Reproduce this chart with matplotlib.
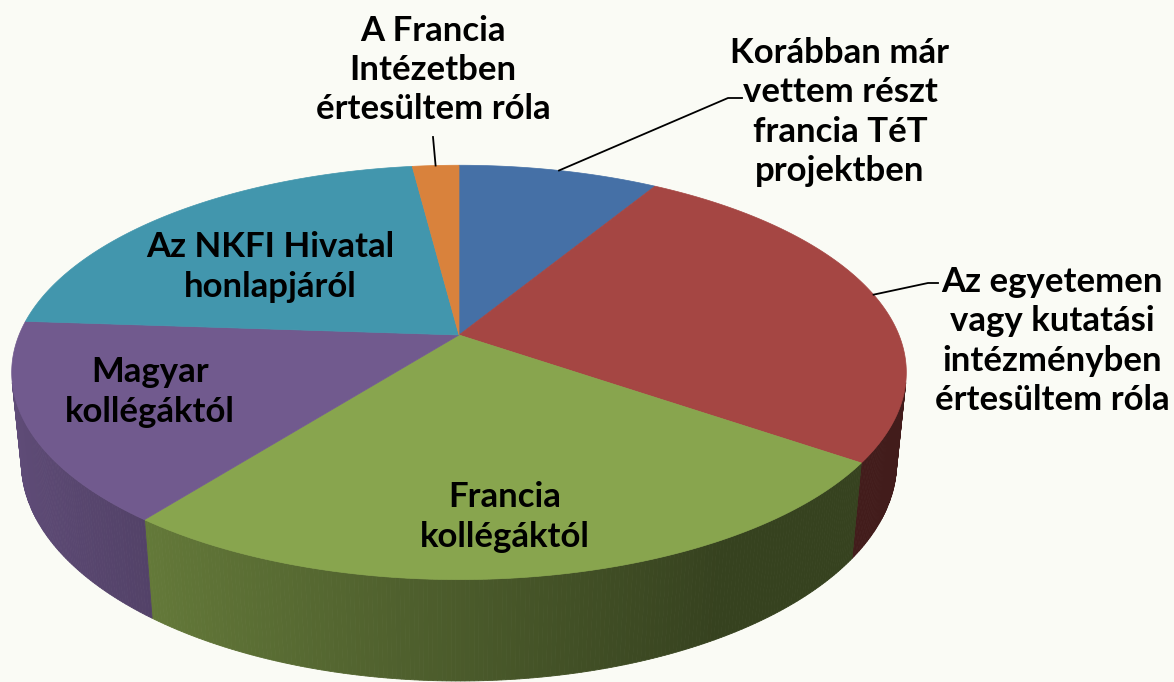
import numpy as np
import matplotlib
matplotlib.use("Agg")
import matplotlib.pyplot as plt
from matplotlib.patches import Polygon

# slices, clockwise from 12 o'clock
labels = [
    "Korábban már\nvettem részt\nfrancia TéT\nprojektben",
    "Az egyetemen\nvagy kutatási\nintézményben\nértesültem róla",
    "Francia\nkollégáktól",
    "Magyar\nkollégáktól",
    "Az NKFI Hivatal\nhonlapjáról",
    "A Francia\nIntézetben\nértesültem róla",
]
values = [8.6, 26.1, 25.8, 15.6, 21.9, 2.0]
colors = ["#4570a6", "#a54643", "#88a54e", "#715a8e", "#4296ad", "#d9823c"]

# label positions (pixels) and whether a leader line is drawn
label_pos = [(840, 112), (1052, 341), (505, 517), (150, 392), (270, 267), (433, 70)]
leader_end = [(742, 98), (938, 283), None, None, None, (433, 137)]
leader_knee = [(728, 98), (928, 283), None, None, None, None]

# perspective "camera" for the 3d pie
cx, cy = 459, 335
elev = np.radians(27.1)
dist = 4.93
focal = 2169
height = 0.231
bg = "#fafbf5"


def proj(theta_deg, z=0.0):
    t = np.radians(theta_deg)
    X, Y = np.sin(t), np.cos(t)
    depth = Y * np.cos(elev) - z * np.sin(elev) + dist
    px = cx + focal * X / depth
    py = cy - focal * (Y * np.sin(elev) + z * np.cos(elev)) / depth
    return px, py


def shade(color, theta_deg):
    f = 0.55 - 0.3 * np.sin(np.radians(theta_deg))
    f = min(max(f, 0.40), 0.9)
    rgb = np.array(matplotlib.colors.to_rgb(color))
    return tuple(rgb * f)


fig = plt.figure(figsize=(11.74, 6.82), dpi=100)
fig.patch.set_facecolor(bg)
ax = fig.add_axes([0, 0, 1, 1])
ax.set_xlim(0, 1174)
ax.set_ylim(682, 0)
ax.axis("off")

edges = np.concatenate([[0], np.cumsum(values)]) / sum(values) * 360
lim = np.degrees(np.arccos(-1 / (dist * np.cos(elev))))
vis_lo, vis_hi = lim, 360 - lim

# outer side walls (front part only)
for i in range(len(values)):
    a1, a2 = max(edges[i], vis_lo), min(edges[i + 1], vis_hi)
    if a2 <= a1:
        continue
    ts = np.linspace(a1, a2, int((a2 - a1) / 0.5) + 2)
    for t0, t1 in zip(ts[:-1], ts[1:]):
        pts = [proj(t0), proj(t1), proj(t1, -height), proj(t0, -height)]
        c = shade(colors[i], (t0 + t1) / 2)
        ax.add_patch(Polygon(pts, closed=True, fc=c, ec=c, lw=0.6))

# top face
for i in range(len(values)):
    ts = np.linspace(edges[i], edges[i + 1], 200)
    pts = [proj(0, 0) if False else (cx, cy)] + [proj(t) for t in ts]
    ax.add_patch(Polygon(pts, closed=True, fc=colors[i], ec=colors[i], lw=0.5))

# labels
for i, lab in enumerate(labels):
    ax.text(label_pos[i][0], label_pos[i][1], lab, ha="center", va="center",
            fontsize=25, fontweight="bold", family=["Lato", "DejaVu Sans"],
            linespacing=1.27, color="black")
    if leader_end[i] is not None:
        mid = (edges[i] + edges[i + 1]) / 2
        ax_, ay_ = proj(mid)
        if leader_knee[i] is not None:
            xs = [ax_, leader_knee[i][0], leader_end[i][0]]
            ys = [ay_, leader_knee[i][1], leader_end[i][1]]
        else:
            xs = [ax_, leader_end[i][0]]
            ys = [ay_, leader_end[i][1]]
        ax.plot(xs, ys, color="black", lw=1.3)

fig.savefig("out.png", dpi=100, facecolor=bg)
